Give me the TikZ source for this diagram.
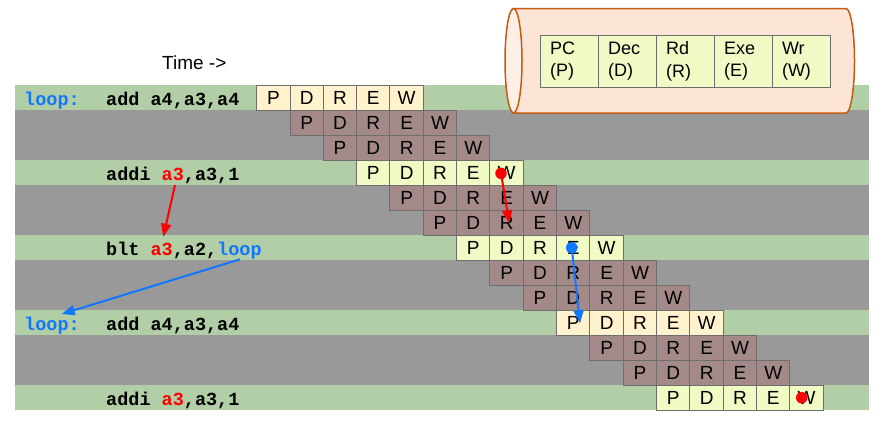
\documentclass[tikz,border=0pt]{standalone}
\usepackage{fontspec}
\usepackage{xcolor}
\usetikzlibrary{arrows.meta}
\setmainfont{Liberation Sans}
\setmonofont{Liberation Mono}

\definecolor{band-green}{RGB}{178,206,166}
\definecolor{band-grey}{RGB}{153,153,153}
\definecolor{cell-mauve}{RGB}{164,137,137}
\definecolor{cell-cream}{RGB}{255,242,204}
\definecolor{cell-lime}{RGB}{240,250,196}
\definecolor{cell-line}{RGB}{110,110,110}
\definecolor{pipe-body}{RGB}{252,228,214}
\definecolor{pipe-end}{RGB}{254,239,230}
\definecolor{pipe-line}{RGB}{197,90,17}
\definecolor{hazard-red}{RGB}{255,0,0}
\definecolor{branch-blue}{RGB}{17,119,255}

\tikzset{
    stage-cell/.style = {draw=cell-line, line width=1pt, rectangle, anchor=north west, outer sep=0pt,
        minimum width=33.33pt, minimum height=25pt, inner sep=0pt, font=\fontsize{19}{22}\selectfont},
    key-cell/.style = {draw=cell-line, line width=1pt, fill=cell-lime, rectangle, anchor=north west, outer sep=0pt,
        minimum width=58pt, minimum height=52.3pt, inner xsep=10pt, inner ysep=0pt, text width=38pt, align=left,
        font=\fontsize{18}{22.7}\selectfont},
    code-text/.style = {anchor=base west, inner sep=0pt, font=\ttfamily\bfseries\fontsize{18.5}{22}\selectfont},
    hazard-dot/.style = {circle, fill=#1, inner sep=0pt, minimum size=11.5pt},
    dep-arrow/.style = {draw=#1, line width=2pt, -{Triangle[length=13pt,width=10pt]}},
}

\begin{document}
\begin{tikzpicture}[x=1pt, y=-1pt]
\useasboundingbox (0,0) rectangle (893,445);

% row bands
\foreach \r/\band in {0/band-green, 1/band-grey, 2/band-grey, 3/band-green, 4/band-grey, 5/band-grey,
    6/band-green, 7/band-grey, 8/band-grey, 9/band-green, 10/band-grey, 11/band-grey, 12/band-green}
    \fill[\band] (15, 85+25*\r) rectangle (869, 110+25*\r);

% pipeline cylinder
\draw[pipe-line, line width=1.5pt, fill=pipe-body] (513.5,8.5) -- (846,8.5)
    arc[start angle=-90, end angle=90, x radius=8.5, y radius=52.25] -- (513.5,113) -- cycle;
\draw[pipe-line, line width=1.5pt, fill=pipe-end] (513.5,60.75) ellipse[x radius=8.5, y radius=52.25];
\foreach \name/\txt [count=\k from 0] in {pc/{PC\\(P)}, dec/{Dec\\(D)}, rd/{Rd\\(R)}, exe/{Exe\\(E)}, wr/{Wr\\(W)}}
    \node[key-cell] (key-\name) at (540+58*\k, 35) {\txt};

\node[anchor=base west, inner sep=0pt, font=\fontsize{19}{22}\selectfont] (time) at (162,69.3) {Time ->};

% pipeline stages
\foreach \r/\col in {0/cell-cream, 1/cell-mauve, 2/cell-mauve, 3/cell-lime, 4/cell-mauve, 5/cell-mauve,
    6/cell-lime, 7/cell-mauve, 8/cell-mauve, 9/cell-cream, 10/cell-mauve, 11/cell-mauve, 12/cell-lime}
    \foreach \l [count=\s] in {P,D,R,E,W}
        \node[stage-cell, fill=\col] (c\r-\s) at (256.67+33.33*\r+33.33*\s-33.33, 85+25*\r) {\l};

% code
\node[code-text, text=branch-blue] (lbl-a) at (24,105.5) {loop:};
\node[code-text] (ins-add-a) at (106,105.5) {add a4,a3,a4};
\node[code-text] (ins-addi-a) at (106,180.5) {addi \textcolor{hazard-red}{a3},a3,1};
\node[code-text] (ins-blt) at (106,255.5) {blt \textcolor{hazard-red}{a3},a2,\textcolor{branch-blue}{loop}};
\node[code-text, text=branch-blue] (lbl-b) at (24,330.5) {loop:};
\node[code-text] (ins-add-b) at (106,330.5) {add a4,a3,a4};
\node[code-text] (ins-addi-b) at (106,405.5) {addi \textcolor{hazard-red}{a3},a3,1};

% dependencies
\coordinate (a3-src) at (175,185);
\coordinate (a3-dst) at (163.3,236.7);
\coordinate (loop-src) at (240,259.3);
\coordinate (loop-dst) at (61.7,314);
\draw[dep-arrow=hazard-red] (a3-src) -- (a3-dst);
\draw[dep-arrow=branch-blue] (loop-src) -- (loop-dst);

\node[hazard-dot=hazard-red] (dot-wr-a) at (501,173.3) {};
\node[hazard-dot=branch-blue] (dot-exe) at (571.7,247.7) {};
\node[hazard-dot=hazard-red] (dot-wr-b) at (801.7,397.7) {};
\coordinate (hit-rd) at (509.3,223.3);
\coordinate (hit-pc) at (580,323.3);
\draw[dep-arrow=hazard-red] (dot-wr-a.center) -- (hit-rd);
\draw[dep-arrow=branch-blue] (dot-exe.center) -- (hit-pc);
\end{tikzpicture}
\end{document}
